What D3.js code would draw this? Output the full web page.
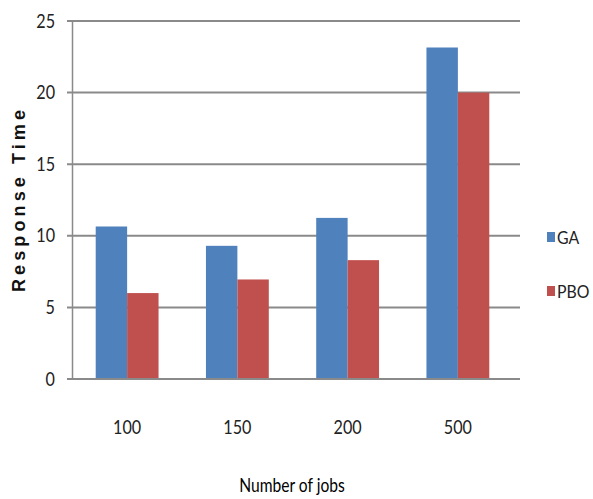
<!DOCTYPE html>
<html>
<head>
<meta charset="utf-8">
<script src="https://cdn.jsdelivr.net/npm/d3@7"></script>
<style>
  body { margin: 0; background: #fff; }
  svg { display: block; }
  .tick text { font-family: Lato, "Open Sans", sans-serif; fill: #222; }
</style>
</head>
<body>
<div class="chart"></div>
<script>
// data
var jobs = ['100', '150', '200', '500']
  , seriesNames = ['GA', 'PBO']
  , gaValues = [10.65, 9.3, 11.25, 23.15]
  , pboValues = [6.0, 6.95, 8.3, 20.0]
  , yTicks = [0, 5, 10, 15, 20, 25];

var colors = { GA: '#4f81bd', PBO: '#c0504d' };

// note: "top" is taken by window.top, so plot edges get their own names
var w = 593
  , h = 499
  , plotLeft = 72
  , plotRight = 513
  , plotTop = 21
  , plotBottom = 379
  , gridEnd = 520;

var svg = d3.select('.chart')
            .append('svg')
            .attr('width', w)
            .attr('height', h);

var x = d3.scaleBand()
          .domain(jobs)
          .range([plotLeft, plotRight])
          .paddingInner(0.43)
          .paddingOuter(0.215);

var xInner = d3.scaleBand()
               .domain(seriesNames)
               .range([0, x.bandwidth()]);

var y = d3.scaleLinear()
          .domain([0, 25])
          .range([plotBottom, plotTop]);

// squeeze Lato a bit so it reads like the narrow original font
var narrow = function (sel, k) {
  sel.each(function () {
    var len = this.getComputedTextLength();
    d3.select(this)
      .attr('textLength', len * k)
      .attr('lengthAdjust', 'spacingAndGlyphs');
  });
};

// gridlines
svg.append('g')
    .selectAll('line')
    .data(yTicks)
    .enter()
    .append('line')
    .attr('x1', plotLeft - 5)
    .attr('x2', gridEnd)
    .attr('y1', function (d) { return y(d); })
    .attr('y2', function (d) { return y(d); })
    .attr('stroke', '#8a8a8a')
    .attr('stroke-width', 2);

// y axis
var yAxis = svg.append('g')
    .attr('transform', 'translate(' + plotLeft + ',0)')
    .call(d3.axisLeft(y).tickValues(yTicks).tickSize(0).tickPadding(17));
yAxis.select('.domain').attr('stroke', '#8a8a8a').attr('stroke-width', 1.5);
yAxis.selectAll('.tick text').attr('font-size', 19).call(narrow, 0.85);

// bars
var rows = jobs.map(function (j, i) {
  return { job: j, GA: gaValues[i], PBO: pboValues[i] };
});

var groups = svg.append('g')
    .selectAll('g')
    .data(rows)
    .enter()
    .append('g')
    .attr('transform', function (d) { return 'translate(' + x(d.job) + ',0)'; });

groups.selectAll('rect')
    .data(function (d) {
      return seriesNames.map(function (s) { return { key: s, value: d[s] }; });
    })
    .enter()
    .append('rect')
    .attr('x', function (d) { return xInner(d.key); })
    .attr('y', function (d) { return y(d.value); })
    .attr('width', xInner.bandwidth())
    .attr('height', function (d) { return y(0) - y(d.value); })
    .attr('fill', function (d) { return colors[d.key]; });

// x axis
var xAxis = svg.append('g')
    .attr('transform', 'translate(0,' + plotBottom + ')')
    .call(d3.axisBottom(x).tickSize(0).tickPadding(42));
xAxis.select('.domain').remove();
xAxis.selectAll('.tick text').attr('font-size', 19).call(narrow, 0.85);

svg.append('line')
    .attr('x1', plotLeft - 5)
    .attr('x2', gridEnd)
    .attr('y1', plotBottom)
    .attr('y2', plotBottom)
    .attr('stroke', '#8a8a8a')
    .attr('stroke-width', 2);

// titles
svg.append('text')
    .attr('x', 292)
    .attr('y', 492)
    .attr('text-anchor', 'middle')
    .attr('font-family', 'Lato, sans-serif')
    .attr('font-size', 19)
    .attr('fill', '#000')
    .text('Number of jobs')
    .call(narrow, 0.82);

svg.append('text')
    .attr('transform', 'translate(25,201) rotate(-90)')
    .attr('text-anchor', 'middle')
    .attr('font-family', '"Liberation Sans", Arial, sans-serif')
    .attr('font-weight', 'bold')
    .attr('font-size', 18)
    .attr('fill', '#111')
    .attr('textLength', 182)
    .attr('lengthAdjust', 'spacing')
    .text('Response Time');

// legend
var legend = svg.append('g')
    .selectAll('g')
    .data(seriesNames)
    .enter()
    .append('g')
    .attr('transform', function (d, i) { return 'translate(547,' + (237 + i * 54) + ')'; });

legend.append('rect')
    .attr('x', 0)
    .attr('y', -5)
    .attr('width', 8)
    .attr('height', 10)
    .attr('fill', function (d) { return colors[d]; });

legend.append('text')
    .attr('x', 10)
    .attr('y', 6.5)
    .attr('font-family', 'Lato, sans-serif')
    .attr('font-size', 18)
    .attr('fill', '#222')
    .text(function (d) { return d; })
    .call(narrow, 0.88);
</script>
</body>
</html>
